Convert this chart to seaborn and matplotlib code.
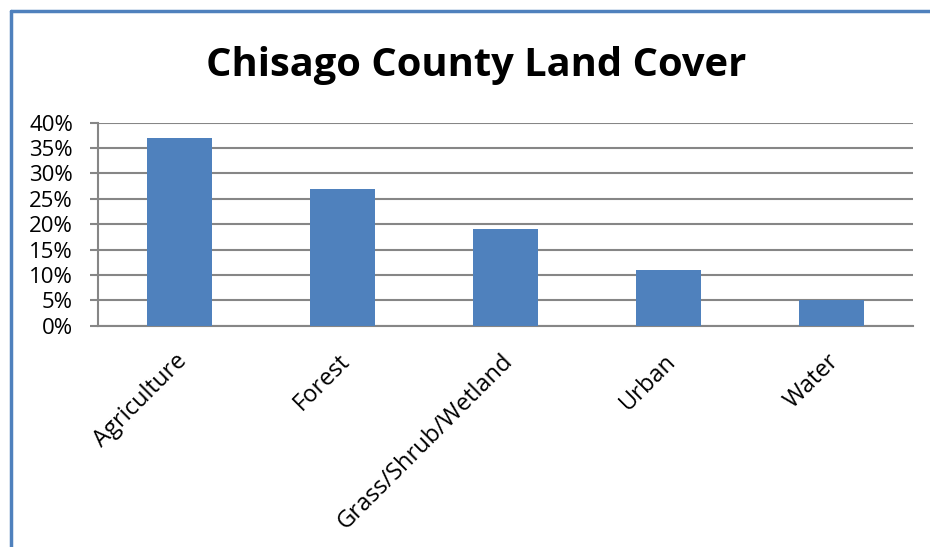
import matplotlib
matplotlib.use("Agg")
import matplotlib.pyplot as plt
import matplotlib.ticker as mticker
import matplotlib.transforms as mtransforms
from matplotlib.lines import Line2D
import numpy as np
import pandas as pd
import seaborn as sns

# Данные диаграммы
categories = ["Agriculture", "Forest", "Grass/Shrub/Wetland", "Urban", "Water"]
shares = [0.37, 0.27, 0.19, 0.11, 0.05]
title = "Chisago County Land Cover"

df = pd.DataFrame({"cover": categories, "share": shares})

sns.set_style("white")
plt.rcParams["font.family"] = ["Open Sans", "DejaVu Sans"]
plt.rcParams["text.color"] = "black"
plt.rcParams["xtick.color"] = "black"
plt.rcParams["ytick.color"] = "black"

bar_color = "#4F81BD"
grid_color = "#868686"

fig = plt.figure(figsize=(9.3, 5.47), dpi=100)
ax = fig.add_axes([0.1054, 0.4046, 0.8763, 0.3711])

sns.barplot(data=df, x="cover", y="share", color=bar_color, width=0.4,
            saturation=1, linewidth=0, ax=ax, zorder=3)

ax.set_ylim(0, 0.40)
ax.set_xlim(-0.5, len(categories) - 0.5)
ax.yaxis.set_major_locator(mticker.MultipleLocator(0.05))
ax.yaxis.set_major_formatter(mticker.PercentFormatter(1.0, decimals=0))
ax.grid(axis="y", color=grid_color, linewidth=1.5, zorder=0)
ax.set_xlabel("")
ax.set_ylabel("")

for side in ["top", "right"]:
    ax.spines[side].set_visible(False)
for side in ["left", "bottom"]:
    ax.spines[side].set_color(grid_color)
    ax.spines[side].set_linewidth(1.5)

# Засечки по оси X на границах категорий
ax.set_xticks(np.arange(-0.5, len(categories)), minor=True)
ax.tick_params(axis="x", which="minor", length=6, width=1.5, color=grid_color,
               direction="out")
ax.tick_params(axis="x", which="major", length=0, pad=17, labelsize=17,
               labelcolor="black")
ax.tick_params(axis="y", length=6, width=1.5, color=grid_color, direction="out",
               left=True, pad=12, labelsize=16, labelcolor="black")
shift = mtransforms.ScaledTranslation(-5 / 100, 0, fig.dpi_scale_trans)
for lbl in ax.get_xticklabels():
    lbl.set_rotation(45)
    lbl.set_ha("right")
    lbl.set_rotation_mode("anchor")
    lbl.set_transform(lbl.get_transform() + shift)

fig.text(0.512, 1 - 76 / 547, title, ha="center", va="baseline",
         fontsize=28.7, fontweight="bold", color="black")

# Синяя рамка (слева и сверху)
fig.add_artist(Line2D([11 / 930, 11 / 930], [0, 1 - 11 / 547],
                      transform=fig.transFigure, color=bar_color, linewidth=2.5))
fig.add_artist(Line2D([11 / 930, 1], [1 - 11 / 547, 1 - 11 / 547],
                      transform=fig.transFigure, color=bar_color, linewidth=2.5))

fig.savefig("out.png", dpi=100)
